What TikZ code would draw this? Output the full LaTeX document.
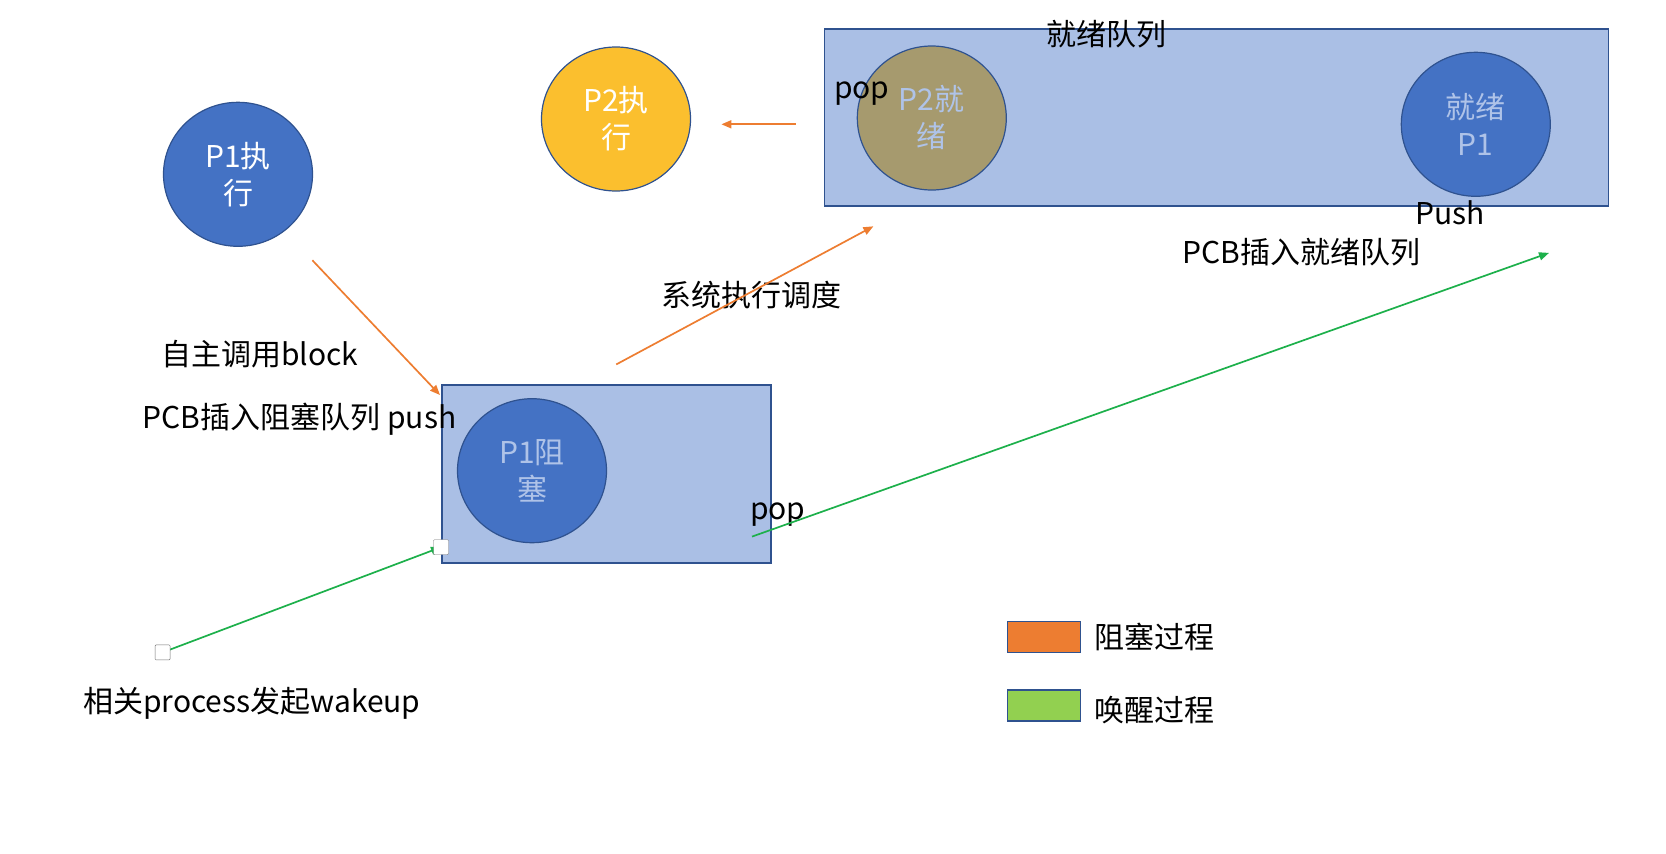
\documentclass[tikz,border=0pt]{standalone}
\usepackage{fontspec}
\setmainfont{Noto Sans CJK SC}
\usepackage{tikz}
\usetikzlibrary{shapes.geometric,arrows.meta,positioning}
\definecolor{qfill}{HTML}{AABFE5}
\definecolor{qedge}{HTML}{2F528F}
\definecolor{pblue}{HTML}{4472C4}
\definecolor{pgold}{HTML}{FBBF2E}
\definecolor{polive}{HTML}{A69A6E}
\definecolor{ptext}{HTML}{AFC3E8}
\definecolor{blockline}{HTML}{ED7D31}
\definecolor{wakeline}{HTML}{1DB04B}
\definecolor{wakefill}{HTML}{92D050}
\tikzset{
  every node/.style={font=\fontsize{30}{37}\selectfont},
  queue/.style={draw=qedge,fill=qfill,line width=1.5pt,inner sep=0pt},
  proc/.style={ellipse,draw=qedge,line width=1.2pt,fill=pblue,text=white,
    minimum width=149pt,minimum height=144pt,inner sep=0pt,align=center},
  key/.style={draw=qedge,line width=1.5pt,minimum width=73pt,minimum height=31pt,inner sep=0pt},
  handle/.style={draw=black!55,fill=white,rounded corners=1pt,minimum size=15pt,inner sep=0pt},
  blockarrow/.style={draw=blockline,line width=1.7pt,-{Triangle[length=10pt,width=8pt]}},
  wakearrow/.style={draw=wakeline,line width=1.7pt,-{Triangle[length=10pt,width=8pt]}},
}

\begin{document}
\begin{tikzpicture}[x=1pt,y=-1pt]
    \useasboundingbox (0,0) rectangle (1666,854);
    % queues
    \node[queue,minimum width=784pt,minimum height=177pt] (readyq) at (1216.5,117.4) {};
    \node[queue,minimum width=329pt,minimum height=178pt] (blockq) at (606.7,473.8) {};
    % processes
    \node[proc] (p1run) at (238,174.3) {P1执\\行};
    \node[proc,fill=pgold] (p2run) at (616,119) {P2执\\行};
    \node[proc,fill=polive,text=ptext] (p2ready) at (931.8,118) {P2就\\绪};
    \node[proc,text=ptext] (p1ready) at (1475.8,124.3) {就绪\\P1};
    \node[proc,text=ptext] (p1block) at (532,470.7) {P1阻\\塞};
    % labels
    \node (readylbl) at (1106,34) {就绪队列};
    \node (pop2) at (861.7,94) {pop};
    \node (pushlbl) at (1450,212.5) {Push};
    \node (pcbready) at (1301.6,251.8) {PCB插入就绪队列};
    \node (sched) at (751.2,295.4) {系统执行调度};
    \node (selfblock) at (260,354) {自主调用block};
    \node (pcbblock) at (299.6,419) {PCB插入阻塞队列 push};
    \node (pop1) at (777.8,515) {pop};
    \node (wakeup) at (251.8,703.5) {相关process发起wakeup};
    % legend
    \node[key,fill=blockline] (keyblock) at (1043.8,637) {};
    \node[key,fill=wakefill] (keywake) at (1043.8,705.5) {};
    \node[right=10pt of keyblock] (keyblocklbl) {阻塞过程};
    \node[right=10pt of keywake,yshift=-5pt] (keywakelbl) {唤醒过程};
    % arrow ends
    \coordinate (runs) at (795.8,124.3);
    \coordinate (rune) at (721.4,124.3);
    \coordinate (blks) at (312.4,260.3);
    \coordinate (blke) at (440,395);
    \coordinate (schs) at (616.3,364.4);
    \coordinate (sche) at (873.4,226.3);
    \coordinate (pops) at (752,536.6);
    \coordinate (pope) at (1549,252.9);
    \coordinate (wks) at (162.6,652.4);
    \coordinate (wke) at (441,547.2);
    % arrows
    \draw[blockarrow] (runs) -- (rune);
    \draw[blockarrow] (blks) -- (blke);
    \draw[blockarrow] (schs) -- (sche);
    \draw[wakearrow] (pops) -- (pope);
    \draw[wakearrow] (wks) -- (wke);
    \node[handle] (h1) at (wks) {};
    \node[handle] (h2) at (wke) {};
\end{tikzpicture}
\end{document}
